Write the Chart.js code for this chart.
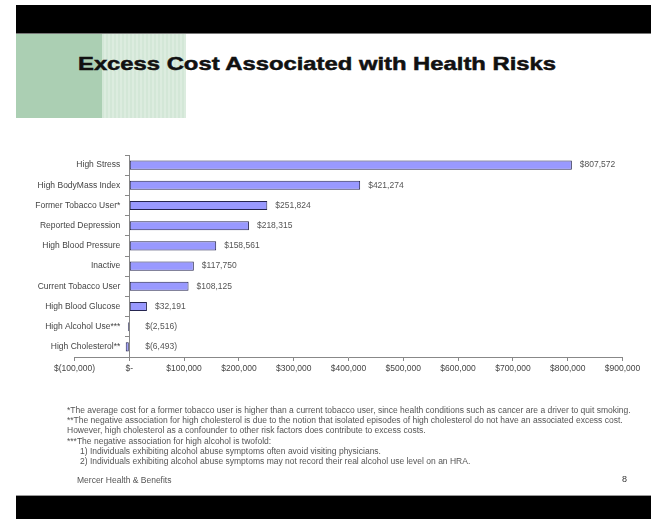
<!DOCTYPE html>
<html>
<head>
<meta charset="utf-8">
<title>Excess Cost Associated with Health Risks</title>
<script src="https://cdn.jsdelivr.net/npm/chart.js@4/dist/chart.umd.min.js"></script>
<style>
  html, body { margin: 0; padding: 0; background: #fff; }
  #slide { position: relative; width: 651px; height: 519px; overflow: hidden; background: #fff;
           font-family: "Liberation Sans", Arial, sans-serif; }
  .band { position: absolute; background: #000; }
  #topBand { left: 16px; top: 5px; width: 635px; height: 28px; border-bottom: 1px solid #777; }
  #bottomBand { left: 16px; top: 495px; width: 635px; height: 24px; border-top: 1px solid #999; }
  #greenDark { position: absolute; left: 16px; top: 34px; width: 86px; height: 84px; background: #abcfb3; }
  #greenLight { position: absolute; left: 102px; top: 34px; width: 84px; height: 84px;
                background: repeating-linear-gradient(90deg, #d3e7d7 0px, #d3e7d7 2px, #dcecdf 2px, #dcecdf 4px); }
  #title { position: absolute; left: 78px; top: 53px; font-size: 19px; font-weight: bold; color: #111;
           white-space: nowrap; -webkit-text-stroke: 0.5px #111; transform-origin: left top; }
  #chart { position: absolute; left: 0; top: 0; }
  #notes { position: absolute; left: 67px; top: 405px; font-size: 8.5px; line-height: 10.2px; color: #555;
           white-space: nowrap; }
  #notes .indent { padding-left: 13px; }
  #footer { position: absolute; left: 77px; top: 475px; font-size: 8.5px; color: #555; }
  #pageNo { position: absolute; left: 622px; top: 474px; font-size: 9px; color: #333; }
</style>
</head>
<body>
<div id="slide">
  <div id="topBand" class="band"></div>
  <div id="greenDark"></div>
  <div id="greenLight"></div>
  <div id="title">Excess Cost Associated with Health Risks</div>
  <canvas id="chart" width="651" height="519"></canvas>
  <div id="notes">
    <div>*The average cost for a former tobacco user is higher than a current tobacco user, since health conditions such as cancer are a driver to quit smoking.</div>
    <div>**The negative association for high cholesterol is due to the notion that isolated episodes of high cholesterol do not have an associated excess cost.</div>
    <div>However, high cholesterol as a confounder to other risk factors does contribute to excess costs.</div>
    <div>***The negative association for high alcohol is twofold:</div>
    <div class="indent">1) Individuals exhibiting alcohol abuse symptoms often avoid visiting physicians.</div>
    <div class="indent">2) Individuals exhibiting alcohol abuse symptoms may not record their real alcohol use level on an HRA.</div>
  </div>
  <div id="footer">Mercer Health &amp; Benefits</div>
  <div id="pageNo">8</div>
  <div id="bottomBand" class="band"></div>
</div>
<script>
// Risk factors, top to bottom
const riskFactors = [
  'High Stress',
  'High BodyMass Index',
  'Former Tobacco User*',
  'Reported Depression',
  'High Blood Pressure',
  'Inactive',
  'Current Tobacco User',
  'High Blood Glucose',
  'High Alcohol Use***',
  'High Cholesterol**'
];

// Excess cost per risk factor (USD)
const excessCost = [807572, 421274, 251824, 218315, 158561, 117750, 108125, 32191, -2516, -6493];

// Cost axis tick labels, accounting style
const xTickLabels = ['$(100,000)', '$-', '$100,000', '$200,000', '$300,000', '$400,000',
                     '$500,000', '$600,000', '$700,000', '$800,000', '$900,000'];

const FONT = '"Liberation Sans", Arial, sans-serif';

// Stretch the heading to its slide width
(function fitTitle() {
  const t = document.getElementById('title');
  const w = t.getBoundingClientRect().width;
  t.style.transform = 'scaleX(' + (478 / w) + ')';
})();

function money(v) {
  const s = Math.abs(v).toLocaleString('en-US');
  return v < 0 ? '$(' + s + ')' : '$' + s;
}

// Category names to the left of the zero line, and each bar's value past its end
const barText = {
  id: 'barText',
  afterDatasetsDraw(chart) {
    const ctx = chart.ctx;
    const xs = chart.scales.x;
    const ys = chart.scales.y;
    const zero = xs.getPixelForValue(0);
    const meta = chart.getDatasetMeta(0);
    ctx.save();
    ctx.font = '8.5px ' + FONT;
    ctx.textBaseline = 'middle';

    ctx.fillStyle = '#444';
    ctx.textAlign = 'right';
    chart.data.labels.forEach((name, i) => {
      ctx.fillText(name, zero - 9, ys.getPixelForTick(i));
    });

    ctx.fillStyle = '#555';
    ctx.textAlign = 'left';
    meta.data.forEach((bar, i) => {
      const v = chart.data.datasets[0].data[i];
      const x = xs.getPixelForValue(Math.max(v, 0)) + (v < 0 ? 16 : 8);
      ctx.fillText(money(v), x, bar.y);
    });
    ctx.restore();
  }
};

new Chart(document.getElementById('chart'), {
  type: 'bar',
  data: {
    labels: riskFactors,
    datasets: [{
      data: excessCost,
      backgroundColor: '#9999ff',
      borderColor: '#25254f',
      borderWidth: 1,
      borderSkipped: false,
      barPercentage: 0.45,
      categoryPercentage: 1
    }]
  },
  options: {
    indexAxis: 'y',
    responsive: false,
    animation: false,
    layout: { padding: { left: 74.5, right: 28.5, top: 155, bottom: 142 } },
    plugins: { legend: { display: false }, tooltip: { enabled: false } },
    scales: {
      x: {
        min: -100000,
        max: 900000,
        ticks: {
          stepSize: 100000,
          autoSkip: false,
          maxRotation: 0,
          padding: 3,
          color: '#444',
          font: { size: 8.5, family: FONT },
          callback: (value, index) => xTickLabels[index]
        },
        grid: { drawOnChartArea: false, drawTicks: true, tickLength: 4, color: '#888' },
        border: { color: '#888' },
        afterFit(scale) { scale.height = 20; }
      },
      y: {
        position: { x: 0 },
        ticks: { display: false },
        grid: { drawOnChartArea: false, drawTicks: true, tickLength: 4, color: '#888', offset: true },
        border: { color: '#888' }
      }
    }
  },
  plugins: [barText]
});
</script>
</body>
</html>
